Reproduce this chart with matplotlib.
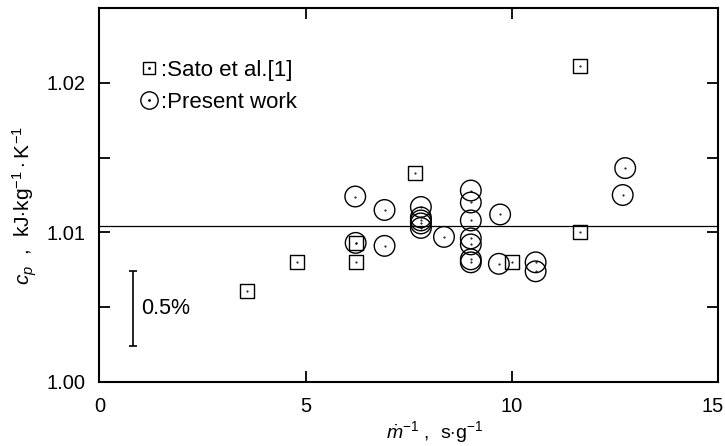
import matplotlib
matplotlib.use("Agg")
import matplotlib.pyplot as plt
import matplotlib.transforms as mtransforms
from matplotlib.legend_handler import HandlerTuple

# Sato et al. [1]
sato_x = [3.58, 4.78, 6.21, 6.21, 7.65, 9.99, 11.64, 11.64]
sato_y = [1.0061, 1.0080, 1.0093, 1.0080, 1.0140, 1.0080, 1.0211, 1.0100]

# present work
work_x = [6.20, 6.21, 6.91, 6.91, 7.79, 7.79, 7.79, 7.79, 7.79, 8.35,
          9.0, 9.0, 9.0, 9.0, 9.0, 9.0, 9.0, 9.71, 9.68, 10.57, 10.57,
          12.74, 12.68]
work_y = [1.0124, 1.0093, 1.0115, 1.0091, 1.0117, 1.0110, 1.0108, 1.0106, 1.0103, 1.0097,
          1.0128, 1.0120, 1.0108, 1.0096, 1.0092, 1.0082, 1.0080, 1.0112, 1.0079, 1.0080, 1.0074,
          1.0143, 1.0125]

mean_cp = 1.0104
bar_center = 1.0049
bar_half = 0.00252

x_ticks = [0, 5, 10, 15]
y_ticks = [1.00, 1.01, 1.02]
y_minor = [1.005, 1.015]

plt.rcParams['font.family'] = ['Liberation Sans', 'DejaVu Sans']
plt.rcParams['mathtext.fontset'] = 'custom'
plt.rcParams['mathtext.rm'] = 'Liberation Sans'
plt.rcParams['mathtext.it'] = 'Liberation Sans:italic'

fig = plt.figure(figsize=(7.25, 4.46), dpi=100)
ax = fig.add_axes([0.137, 0.1435, 0.854, 0.8385])

ax.scatter(sato_x, sato_y, marker='s', s=100, facecolors='none',
           edgecolors='black', linewidths=1.0, zorder=3)
ax.scatter(sato_x, sato_y, marker='.', s=1, color='black', zorder=4)
ax.scatter(work_x, work_y, marker='o', s=220, facecolors='none',
           edgecolors='black', linewidths=1.0, zorder=3)
ax.scatter(work_x, work_y, marker='.', s=1, color='black', zorder=4)

ax.axhline(mean_cp, color='black', lw=0.9, zorder=2)

# 0.5% scale bar
ax.errorbar([0.81], [bar_center], yerr=[bar_half], fmt='none', ecolor='black',
            elinewidth=1.2, capsize=3, capthick=1.2)
ax.text(1.02, bar_center, '0.5%', fontsize=15.5, va='center', ha='left')

dot = plt.Line2D([], [], marker='.', ms=2, color='black', ls='none')
sq_h = plt.Line2D([], [], marker='s', ms=9, mfc='none', mec='black', ls='none')
ci_h = plt.Line2D([], [], marker='o', ms=12.5, mfc='none', mec='black', ls='none')
ax.legend([(sq_h, dot), (ci_h, dot)], [':Sato et al.[1]', ':Present work'],
          handler_map={tuple: HandlerTuple(ndivide=1, pad=0)},
          loc='upper left', bbox_to_anchor=(0.05, 0.885), frameon=False,
          handlelength=0.85, handletextpad=0.15, labelspacing=0.5, fontsize=16,
          borderaxespad=0)

ax.set_xlim(0, 15)
ax.set_ylim(1.0, 1.025)
ax.set_xticks(x_ticks, [str(v) for v in x_ticks])
ax.set_yticks(y_ticks, [f'{v:.2f}' for v in y_ticks])
ax.set_yticks(y_minor, minor=True)
ax.tick_params(which='both', direction='in', top=True, right=True,
               labelsize=14.5, width=1.3, length=8)
ax.tick_params(axis='x', pad=11)
ax.tick_params(axis='y', pad=10)
for sp in ax.spines.values():
    sp.set_linewidth(1.5)

# nudge the last x label so it stays inside the figure
last = ax.xaxis.get_major_ticks()[-1].label1
last.set_transform(last.get_transform()
                   + mtransforms.ScaledTranslation(-4 / 72, 0, fig.dpi_scale_trans))

ax.set_xlabel(r'$\dot{m}^{-1}$ ,  s$\cdot$g$^{-1}$', fontsize=14)
ax.xaxis.set_label_coords(0.542, -0.1)
ax.set_ylabel(r'$c_p$  ,  kJ$\cdot$kg$^{-1}\cdot$K$^{-1}$', fontsize=15)
ax.yaxis.set_label_coords(-0.097, 0.473)

fig.savefig('out.png', dpi=100)
